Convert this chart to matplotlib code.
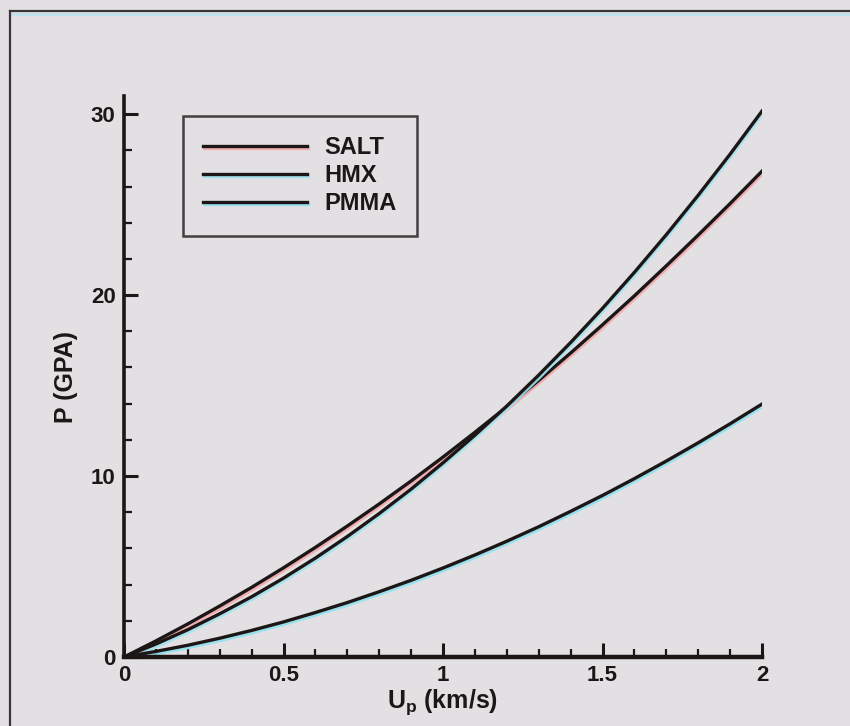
"""Shock Hugoniot P-Up curves for SALT, HMX and PMMA (scanned-plot look)."""
import matplotlib
matplotlib.use("Agg")
import matplotlib.pyplot as plt
import matplotlib.ticker as mticker
import matplotlib.patheffects as pe
from matplotlib.lines import Line2D

plt.rcParams["font.family"] = ["Liberation Sans", "DejaVu Sans"]
plt.rcParams["font.weight"] = "bold"
plt.rcParams["mathtext.fontset"] = "custom"
plt.rcParams["mathtext.rm"] = "Liberation Sans:bold"
plt.rcParams["mathtext.it"] = "Liberation Sans:bold"
plt.rcParams["mathtext.bf"] = "Liberation Sans:bold"

# Particle velocity (km/s) and pressures (GPa)
up = [0.0, 0.1, 0.2, 0.3, 0.4, 0.5, 0.6, 0.7, 0.8, 0.9, 1.0,
      1.1, 1.2, 1.3, 1.4, 1.5, 1.6, 1.7, 1.8, 1.9, 2.0]
p_salt = [0.0, 0.89, 1.83, 2.82, 3.85, 4.93, 6.06, 7.24, 8.46, 9.73, 11.05,
          12.42, 13.83, 15.29, 16.80, 18.36, 19.96, 21.62, 23.32, 25.06, 26.85]
p_hmx = [0.0, 0.72, 1.51, 2.39, 3.33, 4.36, 5.47, 6.66, 7.93, 9.28, 10.73,
         12.26, 13.87, 15.58, 17.38, 19.27, 21.26, 23.34, 25.52, 27.79, 30.17]
p_pmma = [0.0, 0.31, 0.65, 1.04, 1.47, 1.94, 2.46, 3.01, 3.61, 4.24, 4.92,
          5.64, 6.40, 7.20, 8.05, 8.93, 9.86, 10.83, 11.84, 12.89, 13.98]

BG = "#e2e0e2"
INK = "#1c1616"

fig = plt.figure(figsize=(8.5, 7.26), dpi=100, facecolor=BG)
ax = fig.add_axes([0.1459, 0.095, 0.7506, 0.7727])
ax.set_facecolor("none")

# outer frame of the scanned page
fig.add_artist(Line2D([10 / 850, 1.0], [1 - 11 / 726, 1 - 11 / 726],
                      transform=fig.transFigure, color="#3a3436", lw=1.6))
fig.add_artist(Line2D([10 / 850, 1.0], [1 - 14 / 726, 1 - 14 / 726],
                      transform=fig.transFigure, color="#bfe3ec", lw=2.0))
fig.add_artist(Line2D([10 / 850, 10 / 850], [0.0, 1 - 11 / 726],
                      transform=fig.transFigure, color="#3a3436", lw=1.6))


def fringe(color):
    return [pe.SimpleLineShadow(offset=(0.6, -1.6), shadow_color=color, alpha=0.9),
            pe.Normal()]


ax.plot(up, p_salt, color=INK, lw=2.4, label="SALT", path_effects=fringe("#f2a9ad"))
ax.plot(up, p_hmx, color=INK, lw=2.4, label="HMX", path_effects=fringe("#9fe3ef"))
ax.plot(up, p_pmma, color=INK, lw=2.4, label="PMMA", path_effects=fringe("#8fe0ee"))

ax.set_xlim(0, 2)
ax.set_ylim(0, 31)
for s in ("top", "right"):
    ax.spines[s].set_visible(False)
ax.spines["left"].set_linewidth(2.6)
ax.spines["bottom"].set_linewidth(3.2)
ax.spines["left"].set_color(INK)
ax.spines["bottom"].set_color(INK)

ax.xaxis.set_major_locator(mticker.MultipleLocator(0.5))
ax.xaxis.set_minor_locator(mticker.MultipleLocator(0.1))
ax.yaxis.set_major_locator(mticker.MultipleLocator(10))
ax.yaxis.set_minor_locator(mticker.MultipleLocator(2))
ax.xaxis.set_major_formatter(mticker.FuncFormatter(lambda v, p: f"{v:g}"))
ax.tick_params(which="major", direction="in", length=10, width=2.2,
               color=INK, labelsize=16, labelcolor=INK, pad=6)
ax.tick_params(which="minor", direction="in", length=5.5, width=1.6, color=INK)

ax.set_xlabel("U$_\\mathregular{p}$ (km/s)", fontsize=18, fontweight="bold",
              color=INK, labelpad=1)
ax.set_ylabel("P (GPA)", fontsize=18, fontweight="bold", color=INK, labelpad=9)

leg = ax.legend(loc="upper left", bbox_to_anchor=(183 / 850, 1 - 116 / 726),
                bbox_transform=fig.transFigure, fontsize=17, frameon=True,
                fancybox=False, edgecolor=INK, facecolor="none",
                handlelength=4.4, handletextpad=0.75, borderpad=0.85,
                labelspacing=0.22, borderaxespad=0)
leg.get_frame().set_linewidth(1.8)
for t in leg.get_texts():
    t.set_color(INK)
    t.set_fontweight("bold")

fig.savefig("out.png", dpi=100, facecolor=BG)
